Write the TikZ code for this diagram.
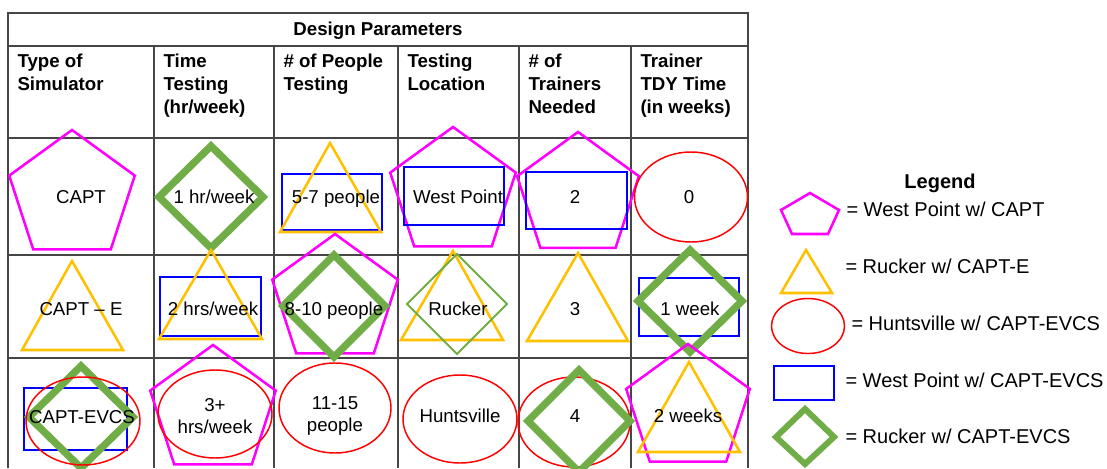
\documentclass[tikz,border=0pt]{standalone}
\usepackage{fontspec}
\setmainfont{Liberation Sans}

\tikzset{every picture/.style={line width=0.75pt}}
\tikzset{
  gridline/.style={draw={rgb, 255:red, 70; green, 70; blue, 70 }, line width=1.2pt},
  wpcapt/.style={draw={rgb, 255:red, 255; green, 0; blue, 255 }, line width=1.9pt},
  ruckere/.style={draw={rgb, 255:red, 255; green, 192; blue, 0 }, line width=1.9pt},
  huntevcs/.style={draw={rgb, 255:red, 255; green, 0; blue, 0 }, line width=1.1pt},
  wpevcs/.style={draw={rgb, 255:red, 0; green, 0; blue, 255 }, line width=1.9pt},
  ruckerevcs/.style={draw={rgb, 255:red, 112; green, 173; blue, 71 }, line width=5.5pt},
  ruckerthin/.style={draw={rgb, 255:red, 112; green, 173; blue, 71 }, line width=1.5pt},
  headtext/.style={font=\fontsize{14}{17.25}\selectfont\bfseries, inner sep=0pt, align=left, anchor=north west},
  celltext/.style={font=\fontsize{14}{17}\selectfont, inner sep=0pt, anchor=base},
  twoline/.style={font=\fontsize{14}{17}\selectfont, inner sep=0pt, align=center},
  legtext/.style={font=\fontsize{15}{18}\selectfont, inner sep=0pt, anchor=base west}
}

\begin{document}
\begin{tikzpicture}[x=0.75pt,y=0.75pt,yscale=-1,xscale=1]
	\useasboundingbox (0,0) rectangle (1107,468);

	%Table grid
	\draw [gridline] (8,468) -- (8,13) -- (748,13) -- (748,468) ;
	\foreach \y in {46,138,255,358}
	  \draw [gridline] (8,\y) -- (748,\y) ;
	\foreach \x in {154,274,398,519,631}
	  \draw [gridline] (\x,46) -- (\x,468) ;

	%Row 1 shapes
	\draw [wpcapt] (72,196) +(-90:66) -- +(198:66) -- +(126:66) -- +(54:66) -- +(-18:66) -- cycle ;
	\draw [ruckerevcs] (211,197) +(0,-51) -- +(52,0) -- +(0,51) -- +(-52,0) -- cycle ;
	\draw [wpevcs] (282,174) rectangle (382,230) ;
	\draw [ruckere] (330,143) -- (381,232) -- (280,232) -- cycle ;
	\draw [wpcapt] (453,193) +(-90:66) -- +(198:66) -- +(126:66) -- +(54:66) -- +(-18:66) -- cycle ;
	\draw [wpevcs] (404,167) rectangle (504,225) ;
	\draw [wpcapt] (578,196) +(-90:64) -- +(198:64) -- +(126:64) -- +(54:64) -- +(-18:64) -- cycle ;
	\draw [wpevcs] (526,172) rectangle (627,229) ;
	\draw [huntevcs] (691,197) ellipse (56.5 and 45) ;

	%Row 2 shapes
	\draw [ruckere] (72,261) -- (123,350) -- (22,350) -- cycle ;
	\draw [wpevcs] (160,277) rectangle (261,336) ;
	\draw [ruckere] (211,250) -- (262,339) -- (159,339) -- cycle ;
	\draw [wpcapt] (335,300) +(-90:66) -- +(198:66) -- +(126:66) -- +(54:66) -- +(-18:66) -- cycle ;
	\draw [ruckerevcs] (334,306) +(0,-51) -- +(51,0) -- +(0,51) -- +(-51,0) -- cycle ;
	\draw [ruckere] (453,251) -- (503,340) -- (401,340) -- cycle ;
	\draw [ruckerthin] (457,304) +(0,-50) -- +(50,0) -- +(0,50) -- +(-50,0) -- cycle ;
	\draw [ruckere] (578,253) -- (628,341) -- (527,341) -- cycle ;
	\draw [wpevcs] (639,278) rectangle (739,336) ;
	\draw [ruckerevcs] (690,301) +(0,-51) -- +(52,0) -- +(0,51) -- +(-52,0) -- cycle ;

	%Row 3 shapes
	\draw [wpevcs] (24,388) rectangle (127,450) ;
	\draw [ruckerevcs] (81,417) +(0,-51) -- +(52,0) -- +(0,51) -- +(-52,0) -- cycle ;
	\draw [huntevcs] (83,421) ellipse (57 and 44) ;
	\draw [wpcapt] (213,411) +(-90:66) -- +(198:66) -- +(126:66) -- +(54:66) -- +(-18:66) -- cycle ;
	\draw [huntevcs] (215,414) ellipse (57 and 44) ;
	\draw [huntevcs] (335,408) ellipse (56 and 45) ;
	\draw [huntevcs] (460,419) ellipse (57 and 44) ;
	\draw [huntevcs] (574,422) ellipse (56 and 45) ;
	\draw [ruckerevcs] (579,421) +(0,-51) -- +(51,0) -- +(0,51) -- +(-51,0) -- cycle ;
	\draw [wpcapt] (688,409) +(-90:65) -- +(198:65) -- +(126:65) -- +(54:65) -- +(-18:65) -- cycle ;
	\draw [ruckere] (689,362) -- (740,452) -- (638,452) -- cycle ;

	%Legend shapes
	\draw [wpcapt] (810,193) -- (781,210) -- (792,234) -- (828,234) -- (839,210) -- cycle ;
	\draw [ruckere] (806,250) -- (832,293) -- (781,293) -- cycle ;
	\draw [huntevcs] (808,326) ellipse (36.5 and 27.5) ;
	\draw [wpevcs] (774,366) rectangle (834,400) ;
	\draw [ruckerevcs, line width=4.5pt] (805,409) -- (834,437) -- (805,464) -- (776,437) -- cycle ;

	% Title and header text
	\node [font=\fontsize{14}{17}\selectfont\bfseries, inner sep=0pt, anchor=base] (title) at (378,35) {Design Parameters};
	\node [headtext] (h1) at (17,53.5) {Type of\\Simulator};
	\node [headtext] (h2) at (163,53.5) {Time\\Testing\\(hr/week)};
	\node [headtext] (h3) at (283,53.5) {\# of People\\Testing};
	\node [headtext] (h4) at (407,53.5) {Testing\\Location};
	\node [headtext] (h5) at (528,53.5) {\# of\\Trainers\\Needed};
	\node [headtext] (h6) at (640,53.5) {Trainer\\TDY Time\\(in weeks)};

	% Row 1 text
	\node [celltext] (c11) at (81,203.5) {CAPT};
	\node [celltext] (c12) at (214,203.5) {1 hr/week};
	\node [celltext] (c13) at (336,203.5) {5-7 people};
	\node [celltext] (c14) at (458,203.5) {West Point};
	\node [celltext] (c15) at (575,203.5) {2};
	\node [celltext] (c16) at (689,203.5) {0};

	% Row 2 text
	\node [celltext] (c21) at (81,315) {CAPT -- E};
	\node [celltext] (c22) at (213,315) {2 hrs/week};
	\node [celltext] (c23) at (334,315) {8-10 people};
	\node [celltext] (c24) at (458,315) {Rucker};
	\node [celltext] (c25) at (575,315) {3};
	\node [celltext] (c26) at (690,315) {1 week};

	% Row 3 text
	\node [celltext] (c31) at (82,423) {CAPT-EVCS};
	\node [twoline] (c32) at (215,416) {3+\\hrs/week};
	\node [twoline] (c33) at (335,416) {11-15\\people};
	\node [celltext] (c34) at (460,422.5) {Huntsville};
	\node [celltext] (c35) at (575,422.5) {4};
	\node [celltext] (c36) at (688,422.5) {2 weeks};

	% Legend text
	\node [font=\fontsize{15}{18}\selectfont\bfseries, inner sep=0pt, anchor=base] (legend) at (940,188) {Legend};
	\node [legtext] (l1) at (846,216.5) {= West Point w/ CAPT};
	\node [legtext] (l2) at (845,273) {= Rucker w/ CAPT-E};
	\node [legtext] (l3) at (851,330) {= Huntsville w/ CAPT-EVCS};
	\node [legtext] (l4) at (845,387) {= West Point w/ CAPT-EVCS};
	\node [legtext] (l5) at (845,443) {= Rucker w/ CAPT-EVCS};

\end{tikzpicture}
\end{document}
